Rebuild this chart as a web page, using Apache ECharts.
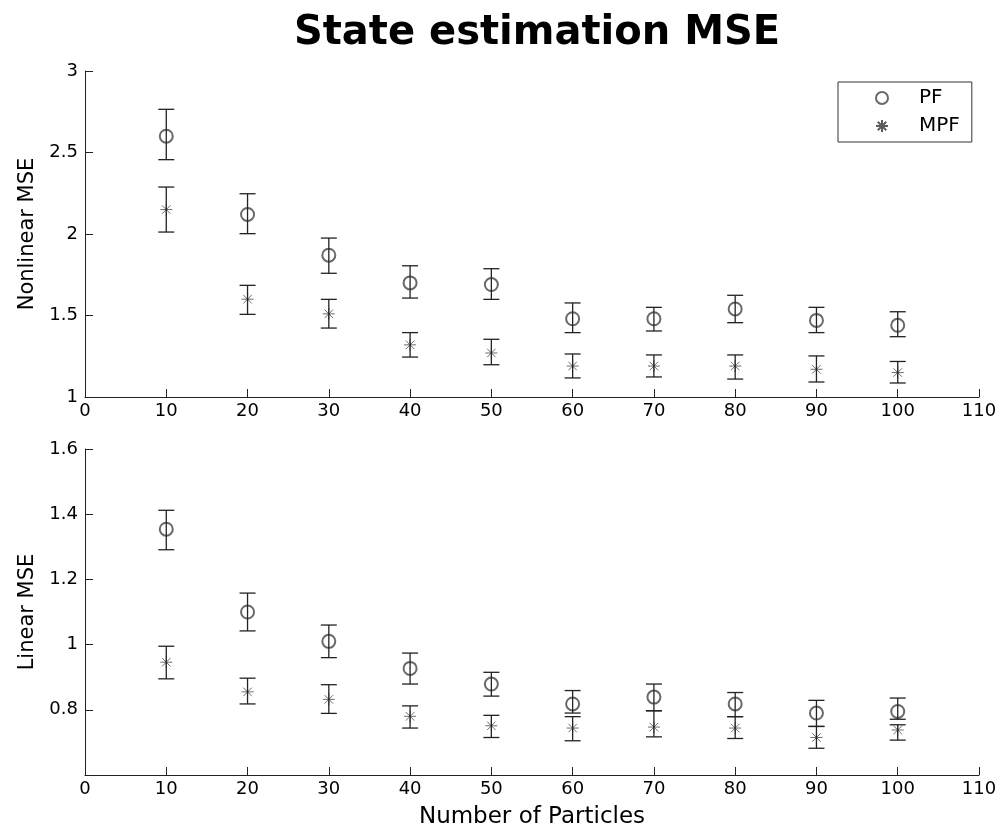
<!DOCTYPE html>
<html>
<head>
<meta charset="utf-8">
<script src="https://cdn.jsdelivr.net/npm/echarts@6/dist/echarts.min.js"></script>
<style>
  html, body { margin: 0; padding: 0; background: #fff; }
  #chart { width: 1000px; height: 836px; }
</style>
</head>
<body>
<div id="chart"></div>
<script>
// x values
const particles = [10, 20, 30, 40, 50, 60, 70, 80, 90, 100];

// nonlinear MSE (mean, lower, upper)
const pfNonMean = [2.60, 2.12, 1.87, 1.70, 1.69, 1.48, 1.48, 1.54, 1.47, 1.44];
const pfNonLo   = [2.456, 2.002, 1.759, 1.607, 1.599, 1.395, 1.405, 1.456, 1.395, 1.37];
const pfNonHi   = [2.765, 2.247, 1.975, 1.805, 1.787, 1.577, 1.55, 1.624, 1.55, 1.523];
const mpfNonMean = [2.15, 1.60, 1.51, 1.32, 1.27, 1.19, 1.19, 1.19, 1.17, 1.15];
const mpfNonLo   = [2.012, 1.507, 1.423, 1.245, 1.198, 1.117, 1.123, 1.11, 1.092, 1.086];
const mpfNonHi   = [2.288, 1.685, 1.599, 1.395, 1.354, 1.264, 1.258, 1.258, 1.252, 1.218];

// linear MSE (mean, lower, upper)
const pfLinMean = [1.354, 1.10, 1.01, 0.927, 0.879, 0.818, 0.839, 0.818, 0.79, 0.795];
const pfLinLo   = [1.291, 1.042, 0.96, 0.879, 0.842, 0.79, 0.797, 0.779, 0.749, 0.771];
const pfLinHi   = [1.412, 1.158, 1.06, 0.974, 0.915, 0.859, 0.879, 0.853, 0.829, 0.836];
const mpfLinMean = [0.946, 0.855, 0.832, 0.78, 0.751, 0.744, 0.747, 0.744, 0.715, 0.738];
const mpfLinLo   = [0.895, 0.818, 0.789, 0.744, 0.715, 0.705, 0.717, 0.712, 0.682, 0.707];
const mpfLinHi   = [0.995, 0.897, 0.877, 0.812, 0.783, 0.779, 0.797, 0.779, 0.749, 0.754];

const FONT = 'DejaVu Sans';
const INK = '#222';
const STAR = 'path://M10,0L10,20M0,10L20,10M2.93,2.93L17.07,17.07M2.93,17.07L17.07,2.93';

function pts(means) {
  return particles.map((x, i) => [x, means[i]]);
}
function bars(lo, hi) {
  return particles.map((x, i) => [x, lo[i], hi[i]]);
}

// vertical error bar with caps
function errorBar(params, api) {
  const x = api.value(0);
  const a = api.coord([x, api.value(1)]);
  const b = api.coord([x, api.value(2)]);
  const w = 8;
  const style = { stroke: INK, lineWidth: 1.3 };
  return {
    type: 'group',
    children: [
      { type: 'line', shape: { x1: a[0], y1: a[1], x2: b[0], y2: b[1] }, style: style },
      { type: 'line', shape: { x1: a[0] - w, y1: a[1], x2: a[0] + w, y2: a[1] }, style: style },
      { type: 'line', shape: { x1: b[0] - w, y1: b[1], x2: b[0] + w, y2: b[1] }, style: style }
    ]
  };
}

function xAxisOf(idx, withName) {
  const ax = {
    type: 'value', gridIndex: idx, min: 0, max: 110, interval: 10,
    axisLine: { show: true, lineStyle: { color: INK, width: 1 } },
    axisTick: { show: true, inside: true, length: 8, lineStyle: { color: INK } },
    axisLabel: { color: '#000', fontSize: 18, fontFamily: FONT, margin: 5 },
    splitLine: { show: false }
  };
  if (withName) {
    ax.name = 'Number of Particles';
    ax.nameLocation = 'middle';
    ax.nameGap = 31;
    ax.nameTextStyle = { color: '#000', fontSize: 23, fontFamily: FONT };
  }
  return ax;
}

function yAxisOf(idx, name, min, max, interval, hideMin) {
  return {
    type: 'value', gridIndex: idx, min: min, max: max, interval: interval,
    name: name, nameLocation: 'middle', nameGap: 46, nameRotate: 90,
    nameTextStyle: { color: '#000', fontSize: 21, fontFamily: FONT },
    axisLine: { show: true, lineStyle: { color: INK, width: 1 } },
    axisTick: { show: true, inside: true, length: 8, lineStyle: { color: INK } },
    axisLabel: {
      color: '#000', fontSize: 18, fontFamily: FONT, margin: 7,
      formatter: function (v) {
        if (hideMin && Math.abs(v - min) < 1e-9) return '';
        return String(+v.toFixed(2));
      }
    },
    splitLine: { show: false }
  };
}

const circleStyle = { color: '#444', borderColor: '#444', borderWidth: 1.2 };
const starStyle = { color: 'transparent', borderColor: '#333', borderWidth: 0.9 };

const option = {
  backgroundColor: '#fff',
  animation: false,
  title: {
    text: 'State estimation MSE',
    left: 532, top: 9, textAlign: 'center',
    textStyle: { color: '#000', fontSize: 40, fontWeight: 'bold', fontFamily: FONT }
  },
  legend: {
    orient: 'vertical', left: 838, top: 82,
    padding: [6, 12, 6, 37],
    itemWidth: 64, itemHeight: 12, itemGap: 8,
    borderColor: '#333', borderWidth: 1,
    textStyle: { color: '#000', fontSize: 20, fontFamily: FONT },
    data: ['PF', 'MPF']
  },
  grid: [
    { left: 85, right: 21, top: 71, height: 326 },
    { left: 85, right: 21, top: 449, height: 326 }
  ],
  xAxis: [xAxisOf(0, false), xAxisOf(1, true)],
  yAxis: [
    yAxisOf(0, 'Nonlinear MSE', 1, 3, 0.5, false),
    yAxisOf(1, 'Linear MSE', 0.6, 1.6, 0.2, true)
  ],
  series: [
    { name: 'PF', type: 'scatter', xAxisIndex: 0, yAxisIndex: 0, symbol: 'emptyCircle', symbolSize: 13, itemStyle: circleStyle, data: pts(pfNonMean), z: 2 },
    { name: 'MPF', type: 'scatter', xAxisIndex: 0, yAxisIndex: 0, symbol: STAR, symbolSize: 12, itemStyle: starStyle, data: pts(mpfNonMean), z: 2 },
    { name: 'PF', type: 'scatter', xAxisIndex: 1, yAxisIndex: 1, symbol: 'emptyCircle', symbolSize: 13, itemStyle: circleStyle, data: pts(pfLinMean), z: 2 },
    { name: 'MPF', type: 'scatter', xAxisIndex: 1, yAxisIndex: 1, symbol: STAR, symbolSize: 12, itemStyle: starStyle, data: pts(mpfLinMean), z: 2 },
    { type: 'custom', xAxisIndex: 0, yAxisIndex: 0, renderItem: errorBar, data: bars(pfNonLo, pfNonHi), silent: true, z: 4 },
    { type: 'custom', xAxisIndex: 0, yAxisIndex: 0, renderItem: errorBar, data: bars(mpfNonLo, mpfNonHi), silent: true, z: 4 },
    { type: 'custom', xAxisIndex: 1, yAxisIndex: 1, renderItem: errorBar, data: bars(pfLinLo, pfLinHi), silent: true, z: 4 },
    { type: 'custom', xAxisIndex: 1, yAxisIndex: 1, renderItem: errorBar, data: bars(mpfLinLo, mpfLinHi), silent: true, z: 4 }
  ]
};

const myChart = echarts.init(document.getElementById('chart'));
myChart.setOption(option);
</script>
</body>
</html>
